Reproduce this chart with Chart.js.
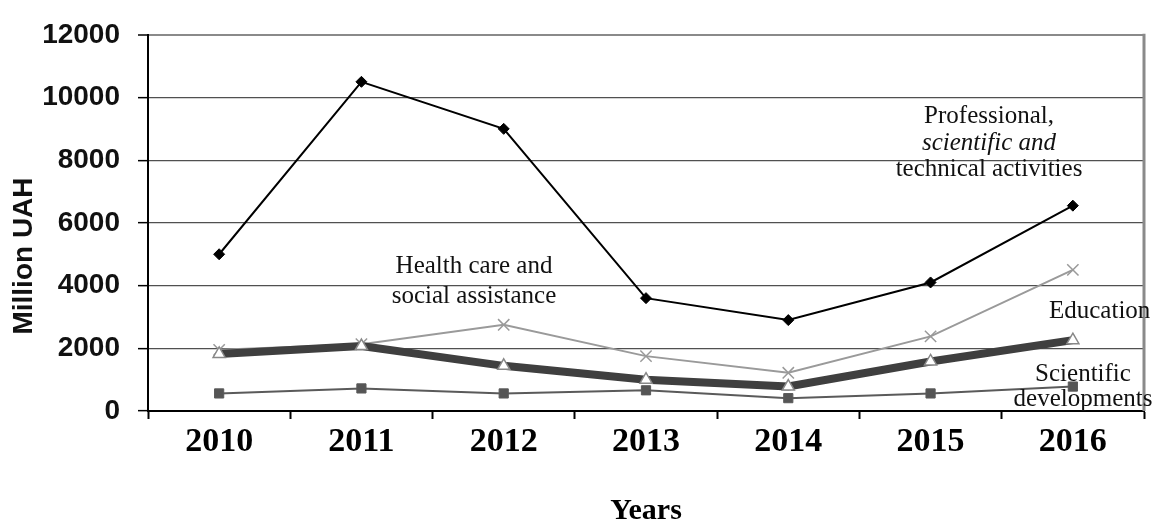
<!DOCTYPE html>
<html>
<head>
<meta charset="utf-8">
<script src="https://cdn.jsdelivr.net/npm/chart.js@4.4.1/dist/chart.umd.min.js"></script>
<style>
  html, body { margin: 0; padding: 0; background: #fff; }
  #wrap { width: 1156px; height: 527px; position: relative; }
</style>
</head>
<body>
<div id="wrap"><canvas id="c" width="1156" height="527"></canvas></div>
<script>
const years = ['2010', '2011', '2012', '2013', '2014', '2015', '2016'];
const professional = [5000, 10500, 9000, 3600, 2900, 4100, 6550];
const healthCare = [1950, 2130, 2750, 1750, 1220, 2380, 4500];
const education = [1820, 2070, 1440, 1000, 780, 1580, 2260];
const scientificDev = [560, 720, 560, 660, 410, 560, 780];
const yTicks = [0, 2000, 4000, 6000, 8000, 10000, 12000];

const serif = '"Liberation Serif", "Times New Roman", serif';
const sans = '"Liberation Sans", Arial, sans-serif';

const annotations = [
  { lines: [
      { text: 'Professional,', italic: false },
      { text: 'scientific and', italic: true },
      { text: 'technical activities', italic: false }
    ], x: 989, y: 123, step: 26.5, align: 'center' },
  { lines: [
      { text: 'Health care and' },
      { text: 'social assistance' }
    ], x: 474, y: 273, step: 30, align: 'center' },
  { lines: [ { text: 'Education' } ], x: 1049, y: 318, step: 0, align: 'left' },
  { lines: [
      { text: 'Scientific' },
      { text: 'developments' }
    ], x: 1083, y: 381, step: 24.5, align: 'center' }
];

const extras = {
  id: 'extras',
  beforeDatasetsDraw(chart) {
    const { ctx, chartArea } = chart;
    ctx.save();
    ctx.strokeStyle = '#8a8a8a';
    ctx.lineWidth = 3;
    ctx.beginPath();
    ctx.moveTo(chartArea.right, chartArea.top - 1);
    ctx.lineTo(chartArea.right, chartArea.bottom);
    ctx.stroke();
    ctx.restore();
  },
  afterDraw(chart) {
    const { ctx } = chart;
    ctx.save();
    ctx.fillStyle = '#111';
    ctx.textBaseline = 'alphabetic';
    annotations.forEach(a => {
      ctx.textAlign = a.align;
      a.lines.forEach((l, i) => {
        ctx.font = (l.italic ? 'italic ' : '') + '25px ' + serif;
        ctx.fillText(l.text, a.x, a.y + i * a.step);
      });
    });
    // y axis title
    ctx.translate(24, 256);
    ctx.rotate(-Math.PI / 2);
    ctx.textAlign = 'center';
    ctx.textBaseline = 'middle';
    ctx.font = 'bold 28px ' + sans;
    ctx.fillStyle = '#111';
    ctx.fillText('Million UAH', 0, 0);
    ctx.restore();
  }
};

new Chart(document.getElementById('c'), {
  type: 'line',
  data: {
    labels: years,
    datasets: [
      {
        label: 'Professional, scientific and technical activities',
        data: professional,
        borderColor: '#000',
        backgroundColor: '#000',
        borderWidth: 2,
        pointStyle: 'rectRot',
        pointRadius: 5.5,
        pointBorderWidth: 1,
        tension: 0
      },
      {
        label: 'Scientific developments',
        data: scientificDev,
        borderColor: '#5a5a5a',
        backgroundColor: '#555',
        borderWidth: 2,
        pointStyle: 'rect',
        pointRadius: 6.5,
        pointBorderWidth: 1,
        tension: 0
      },
      {
        label: 'Education',
        data: education,
        borderColor: '#3f3f3f',
        backgroundColor: '#ffffff',
        borderWidth: 8,
        pointStyle: 'triangle',
        pointRadius: 7,
        pointBorderColor: '#888',
        pointBackgroundColor: '#fff',
        pointBorderWidth: 1.5,
        tension: 0
      },
      {
        label: 'Health care and social assistance',
        data: healthCare,
        borderColor: '#9a9a9a',
        backgroundColor: '#9a9a9a',
        borderWidth: 2,
        pointStyle: 'crossRot',
        pointRadius: 8,
        pointBorderColor: '#9a9a9a',
        pointBorderWidth: 1.5,
        tension: 0
      }
    ]
  },
  options: {
    responsive: false,
    animation: false,
    events: [],
    layout: { padding: { top: 29, right: 12, bottom: 0, left: 0 } },
    plugins: {
      legend: { display: false },
      tooltip: { enabled: false },
      title: { display: false }
    },
    scales: {
      x: {
        type: 'category',
        offset: true,
        afterFit: s => { s.height = 116; },
        grid: {
          offset: true,
          drawOnChartArea: false,
          drawTicks: true,
          tickLength: 8,
          tickColor: '#000',
          tickWidth: 2
        },
        border: { display: true, color: '#000', width: 2 },
        ticks: {
          color: '#000',
          padding: 3,
          maxRotation: 0,
          font: { family: serif, size: 34, weight: 'bold' }
        },
        title: {
          display: true,
          text: 'Years',
          color: '#000',
          padding: { top: 0, bottom: 1 },
          font: { family: serif, size: 30, weight: 'bold', lineHeight: 1 }
        }
      },
      y: {
        min: 0,
        max: 12000,
        afterFit: s => { s.width = 148; },
        afterBuildTicks: s => { s.ticks = yTicks.map(v => ({ value: v })); },
        grid: {
          color: ctx => ctx.tick && ctx.tick.value === 0 ? 'rgba(0,0,0,0)' : (ctx.tick && ctx.tick.value === 12000 ? '#8a8a8a' : '#505050'),
          lineWidth: ctx => ctx.tick && ctx.tick.value === 12000 ? 2 : 1.3,
          tickColor: '#000',
          tickLength: 10,
          tickWidth: 1.5
        },
        border: { display: true, color: '#000', width: 2 },
        ticks: {
          color: '#111',
          padding: 18,
          callback: v => String(v),
          font: { family: sans, size: 28, weight: 'bold' }
        }
      }
    }
  },
  plugins: [extras]
});
</script>
</body>
</html>
